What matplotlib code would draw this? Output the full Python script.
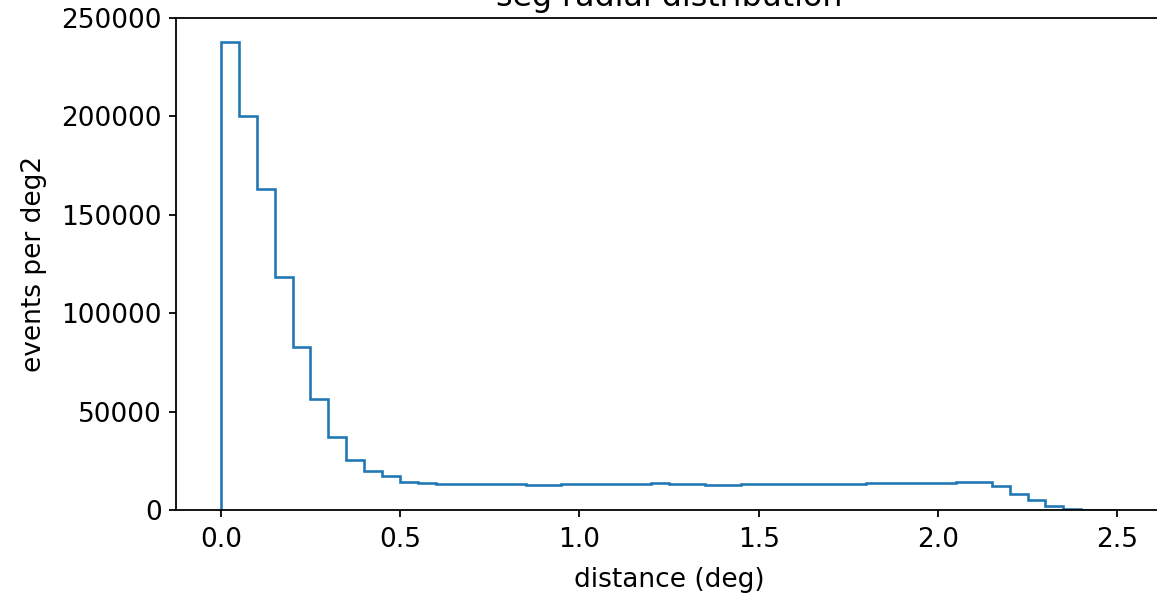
import numpy as np
import matplotlib
matplotlib.use("Agg")
import matplotlib.pyplot as plt

# histogram bin edges (deg) and counts per deg2
bin_lo = 0.0
bin_hi = 2.5
n_bins = 50
counts = [238000, 200000, 163000, 118400, 83000, 56200, 37000, 25200, 19900, 17200,
          14400, 13600, 13400, 13300, 13300, 13200, 13100, 12800, 12700, 13000,
          13100, 13100, 13100, 13300, 13600, 13300, 13000, 12800, 12900, 13400,
          13200, 13200, 13200, 13200, 13200, 13400, 13600, 13700, 13700, 13800,
          13900, 14100, 14100, 12400, 8100, 5100, 2100, 700, 0, 0]

title = "seg radial distribution"
xlabel = "distance (deg)"
ylabel = "events per deg2"

DPI = 144
fig = plt.figure(figsize=(1157 / DPI, 595 / DPI), dpi=DPI)
ax = fig.add_axes([176 / 1157, 85 / 595, 986 / 1157, 492 / 595])

edges = np.linspace(bin_lo, bin_hi, n_bins + 1)
centers = 0.5 * (edges[:-1] + edges[1:])
ax.hist(centers, bins=edges, weights=counts, histtype="step",
        color="#1f77b4", linewidth=1.3)

ax.set_xlim(-0.125, 2.625)
ax.set_ylim(0, 250000)
ax.set_xticks([0.0, 0.5, 1.0, 1.5, 2.0, 2.5])
ax.tick_params(labelsize=13.2, length=3.5, width=0.9)
ax.tick_params(axis="x", pad=5)
for s in ax.spines.values():
    s.set_linewidth(0.9)

ax.set_title(title, fontsize=15.8)
ax.set_xlabel(xlabel, fontsize=13.2, labelpad=7)
ax.set_ylabel(ylabel, fontsize=13.2, labelpad=7)

fig.savefig("out.png", dpi=DPI)
